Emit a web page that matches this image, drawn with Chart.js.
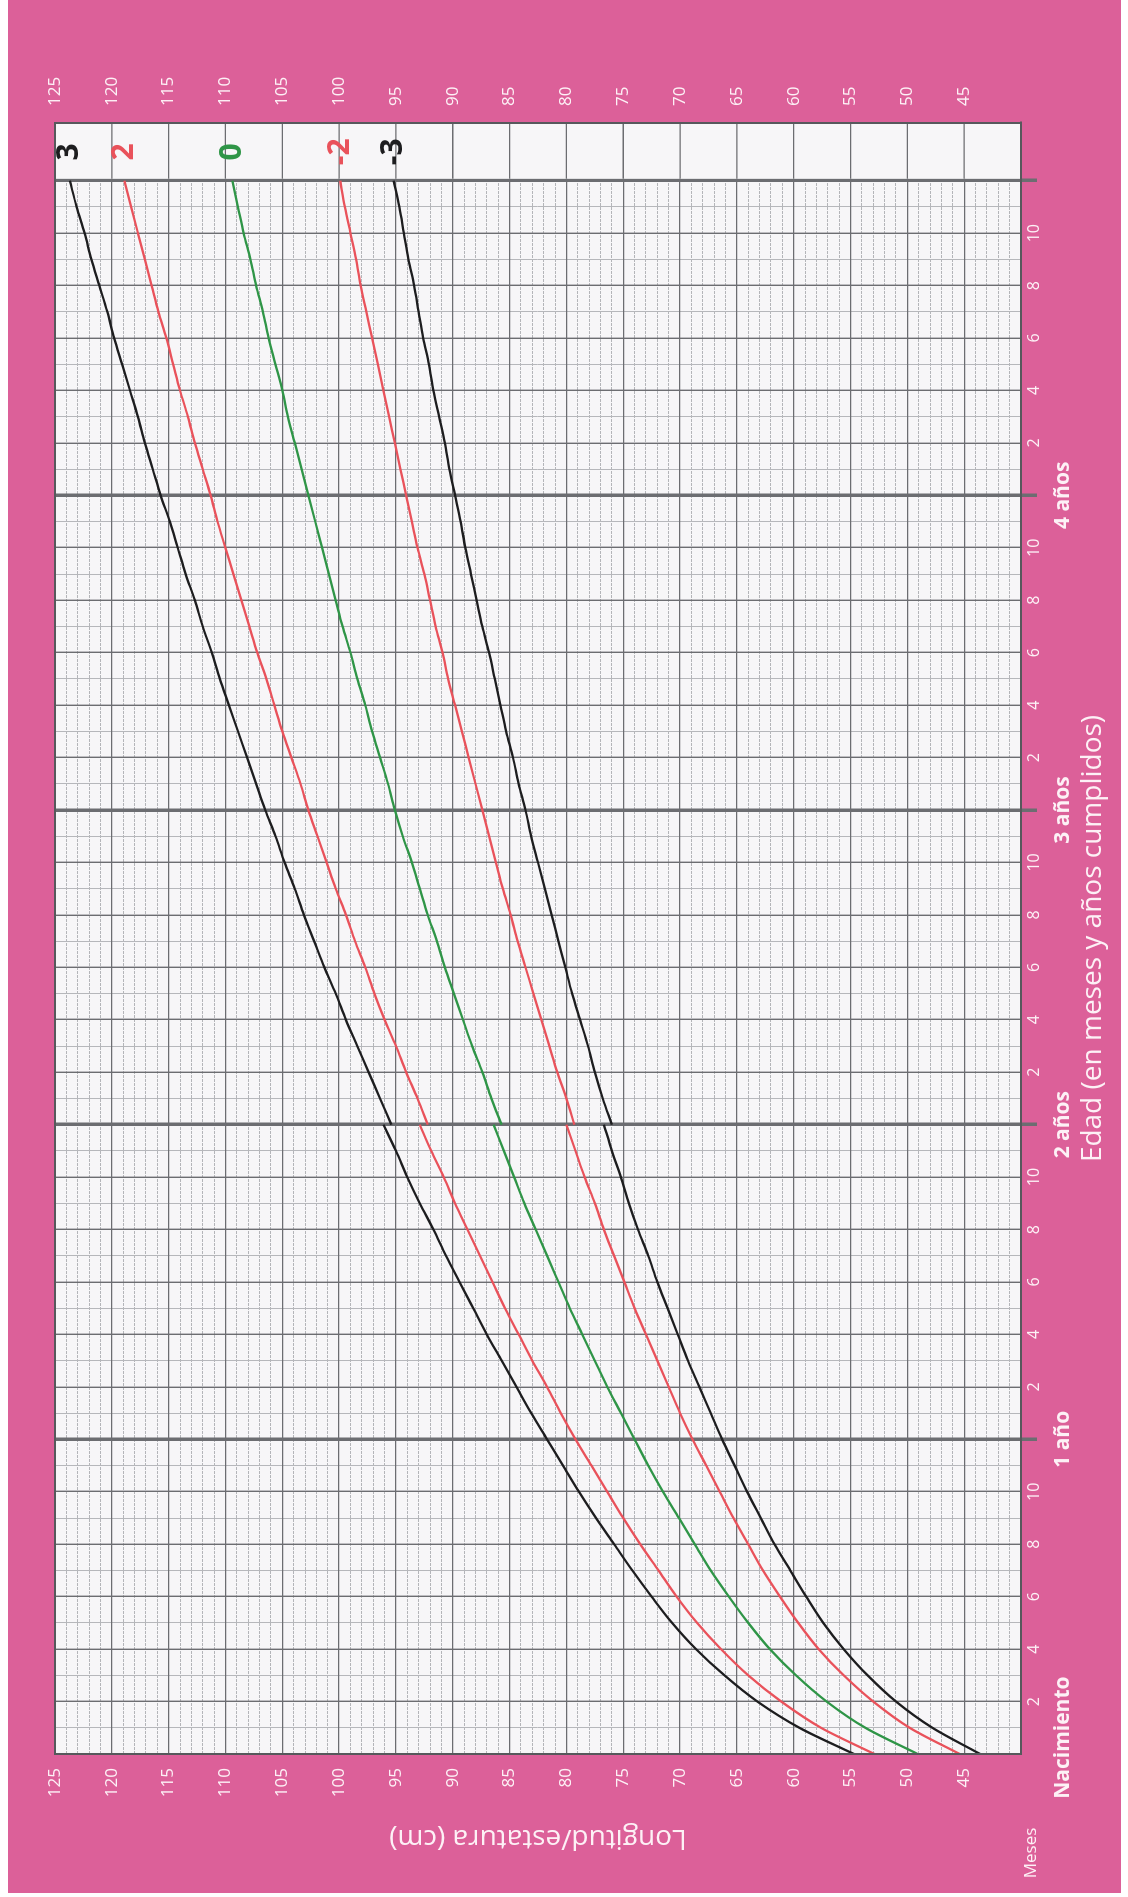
<!DOCTYPE html>
<html lang="es">
<head>
<meta charset="utf-8">
<title>Longitud/estatura para la edad</title>
<script src="https://cdn.jsdelivr.net/npm/chart.js@4.4.1/dist/chart.umd.min.js"></script>
<style>
  html, body { margin: 0; padding: 0; background: #fff; overflow: hidden; }
  /* the chart is drawn lying down and turned a quarter turn, like the printed card */
  #wrap {
    position: absolute; left: 0; top: 0; width: 1897px; height: 1128px;
    transform-origin: 0 0; transform: translate(0, 1897px) rotate(-90deg);
  }
</style>
</head>
<body>
<div id="wrap"><canvas id="growthChart" width="1897" height="1128"></canvas></div>
<script>
// edad en meses
const mesesLongitud = [0,1,2,3,4,5,6,7,8,9,10,11,12,13,14,15,16,17,18,19,20,21,22,23,24]
const mesesEstatura = [24,25,26,27,28,29,30,31,32,33,34,35,36,37,38,39,40,41,42,43,44,45,46,47,48,49,50,51,52,53,54,55,56,57,58,59,60]

// longitud (acostada), 0-24 meses
const longitudMenos3 = [43.6,47.8,51.0,53.5,55.6,57.4,58.9,60.3,61.7,62.9,64.1,65.2,66.3,67.3,68.3,69.3,70.2,71.1,72.0,72.8,73.7,74.5,75.2,76.0,76.7]
const longitudMenos2 = [45.4,49.8,53.0,55.6,57.8,59.6,61.2,62.7,64.0,65.3,66.5,67.7,68.9,70.0,71.0,72.0,73.0,74.0,74.9,75.8,76.7,77.5,78.4,79.2,80.0]
const longitudMediana = [49.1,53.7,57.1,59.8,62.1,64.0,65.7,67.3,68.7,70.1,71.5,72.8,74.0,75.2,76.4,77.5,78.6,79.7,80.7,81.7,82.7,83.7,84.6,85.5,86.4]
const longitudMas2 = [52.9,57.6,61.1,64.0,66.4,68.5,70.3,71.9,73.5,75.0,76.4,77.8,79.2,80.5,81.7,83.0,84.2,85.4,86.5,87.6,88.7,89.8,90.8,91.9,92.9]
const longitudMas3 = [54.7,59.5,63.2,66.1,68.6,70.7,72.5,74.2,75.8,77.4,78.9,80.3,81.7,83.1,84.4,85.7,87.0,88.2,89.4,90.6,91.7,92.9,94.0,95.0,96.1]

// estatura (de pie), 24-60 meses
const estaturaMenos3 = [76.0,76.8,77.5,78.1,78.8,79.5,80.1,80.7,81.3,81.9,82.5,83.1,83.6,84.2,84.7,85.3,85.8,86.3,86.8,87.4,87.9,88.4,88.9,89.3,89.8,90.3,90.7,91.2,91.7,92.1,92.6,93.0,93.4,93.9,94.3,94.7,95.2]
const estaturaMenos2 = [79.3,80.0,80.8,81.5,82.2,82.9,83.6,84.3,84.9,85.6,86.2,86.8,87.4,88.0,88.6,89.2,89.8,90.4,90.9,91.5,92.0,92.5,93.1,93.6,94.1,94.6,95.1,95.6,96.1,96.6,97.1,97.6,98.1,98.5,99.0,99.5,99.9]
const estaturaMediana = [85.7,86.6,87.4,88.3,89.1,89.9,90.7,91.4,92.2,92.9,93.6,94.4,95.1,95.7,96.4,97.1,97.7,98.4,99.0,99.7,100.3,100.9,101.5,102.1,102.7,103.3,103.9,104.5,105.0,105.6,106.2,106.7,107.3,107.8,108.4,108.9,109.4]
const estaturaMas2 = [92.2,93.1,94.1,95.0,96.0,96.9,97.7,98.6,99.4,100.3,101.1,101.9,102.7,103.4,104.2,105.0,105.7,106.4,107.2,107.9,108.6,109.3,110.0,110.7,111.3,112.0,112.7,113.3,114.0,114.6,115.2,115.9,116.5,117.1,117.7,118.3,118.9]
const estaturaMas3 = [95.4,96.4,97.4,98.4,99.4,100.3,101.3,102.2,103.1,103.9,104.8,105.6,106.5,107.3,108.1,108.9,109.7,110.5,111.2,112.0,112.7,113.5,114.2,114.9,115.7,116.4,117.1,117.7,118.4,119.1,119.8,120.4,121.1,121.8,122.4,123.1,123.7]

const etiquetasAnio = ['Nacimiento', '1 año', '2 años', '3 años', '4 años', '5 años']

const ROSA = '#dc6099'
const PAPEL = '#f7f6f8'
const TEXTO = '#fdf1f6'
const LINEA = '#6c6d71'
const FUENTE = '"Open Sans", "Noto Sans", sans-serif'

const curvas = [
  { label: '3', color: '#1d1d1f', longitud: longitudMas3, estatura: estaturaMas3 },
  { label: '-3', color: '#1d1d1f', longitud: longitudMenos3, estatura: estaturaMenos3 },
  { label: '2', color: '#e9525b', longitud: longitudMas2, estatura: estaturaMas2 },
  { label: '-2', color: '#e9525b', longitud: longitudMenos2, estatura: estaturaMenos2 },
  { label: '0', color: '#2f9547', longitud: longitudMediana, estatura: estaturaMediana },
]

const puntos = (lon, est) =>
  mesesLongitud.map((m, i) => ({ x: m, y: lon[i] }))
    .concat([{ x: 24, y: null }])
    .concat(mesesEstatura.map((m, i) => ({ x: m, y: est[i] })))

const datasets = curvas.map(c => ({
  label: c.label,
  data: puntos(c.longitud, c.estatura),
  xAxisID: 'xMes',
  yAxisID: 'yIzq',
  borderColor: c.color,
  borderWidth: 2.3,
  pointRadius: 0,
  cubicInterpolationMode: 'monotone',
  spanGaps: false,
}))

const fondo = {
  id: 'fondo',
  beforeDraw(chart) {
    const { ctx, width, height, chartArea: a } = chart
    ctx.save()
    ctx.fillStyle = '#ffffff'
    ctx.fillRect(0, 0, width, height)
    ctx.fillStyle = ROSA
    ctx.fillRect(4, 8, width - 4, height - 15)
    ctx.fillStyle = PAPEL
    ctx.fillRect(a.left, a.top, a.right - a.left, a.bottom - a.top)
    ctx.restore()
  }
}

// white strip after 5 years, where the curve names go
const franja = {
  id: 'franja',
  beforeDatasetsDraw(chart) {
    const { ctx, chartArea: a } = chart
    const x = chart.scales.xMes, y = chart.scales.yIzq
    const x0 = x.getPixelForValue(60) + 2
    ctx.save()
    ctx.fillStyle = PAPEL
    ctx.fillRect(x0, a.top, a.right - x0, a.bottom - a.top)
    ctx.strokeStyle = LINEA
    ctx.lineWidth = 1.3
    y.ticks.forEach(t => {
      const py = y.getPixelForValue(t.value)
      ctx.beginPath()
      ctx.moveTo(x0, py)
      ctx.lineTo(a.right, py)
      ctx.stroke()
    })
    ctx.restore()
  },
  afterDatasetsDraw(chart) {
    const { ctx } = chart
    const x = chart.scales.xMes, y = chart.scales.yIzq
    ctx.save()
    ctx.font = 'bold 30px ' + FUENTE
    ctx.textAlign = 'center'
    ctx.textBaseline = 'middle'
    chart.data.datasets.forEach(ds => {
      const ultimo = ds.data[ds.data.length - 1]
      ctx.fillStyle = ds.borderColor
      ctx.fillText(ds.label, x.getPixelForValue(61.1), y.getPixelForValue(ultimo.y))
    })
    ctx.restore()
  },
  afterDraw(chart) {
    const { ctx, chartArea: a } = chart
    ctx.save()
    ctx.strokeStyle = '#57585c'
    ctx.lineWidth = 2
    ctx.strokeRect(a.left, a.top, a.right - a.left, a.bottom - a.top)
    ctx.fillStyle = TEXTO
    ctx.font = '17px ' + FUENTE
    ctx.textAlign = 'center'
    ctx.textBaseline = 'middle'
    ctx.fillText('Meses', a.left - 99, a.bottom + 10)
    ctx.restore()
  }
}

const esAnio = v => v > 0 && v <= 60 && v % 12 === 0

new Chart(document.getElementById('growthChart'), {
  type: 'line',
  data: { datasets },
  plugins: [fondo, franja],
  options: {
    responsive: false,
    devicePixelRatio: 1,
    animation: false,
    layout: { padding: { top: 55, left: 0, right: 0, bottom: 0 } },
    plugins: { legend: { display: false }, tooltip: { enabled: false } },
    scales: {
      yMenor: {
        type: 'linear', position: 'left', min: 40, max: 125, weight: -1,
        ticks: { display: false, stepSize: 1 },
        grid: {
          color: c => c.tick.value % 5 === 0 ? 'transparent' : '#b4b5b9',
          lineWidth: 1, drawTicks: false, z: -3
        },
        border: { display: false, dash: [3, 1] },
        afterFit: s => { s.width = 0 }
      },
      xMes: {
        type: 'linear', position: 'bottom', min: 0, max: 62.2, weight: 0,
        ticks: {
          stepSize: 1, autoSkip: false, maxRotation: 0, minRotation: 0, padding: -12,
          color: TEXTO, font: { family: FUENTE, size: 16 },
          callback: v => (Number.isInteger(v) && v > 0 && v < 60 && v % 2 === 0 && v % 12 !== 0) ? String(v % 12) : ''
        },
        grid: {
          color: c => {
            const v = c.tick.value
            if (v > 60 || v === 0) return 'transparent'
            if (v % 12 === 0) return LINEA
            return v % 2 === 0 ? LINEA : '#b6b7bb'
          },
          lineWidth: c => {
            const v = c.tick.value
            if (v % 12 === 0) return 3.5
            return v % 2 === 0 ? 1.4 : 1
          },
          drawTicks: true, tickLength: 16,
          tickColor: c => esAnio(c.tick.value) ? LINEA : 'transparent',
          tickWidth: 3.5,
          z: -2
        },
        border: { display: true, color: '#57585c', width: 2 },
        afterFit: s => { s.height = 27 }
      },
      xAnio: {
        type: 'linear', position: 'bottom', min: 0, max: 62.2, weight: 1,
        ticks: {
          stepSize: 12, autoSkip: false, maxRotation: 0, minRotation: 0, padding: 2,
          color: TEXTO, font: { family: FUENTE, size: 21, weight: 'bold' },
          callback: v => {
            if (!Number.isInteger(v) || v % 12 !== 0 || v > 60) return ''
            const t = etiquetasAnio[v / 12]
            return v === 0 ? '      ' + t : t
          }
        },
        grid: { display: false, drawTicks: false },
        border: { display: false },
        title: {
          display: true, text: 'Edad (en meses y años cumplidos)', color: TEXTO,
          font: { family: FUENTE, size: 28 }, padding: { top: 0, bottom: 18 }
        },
        afterFit: s => { s.height = 80 }
      },
      yIzq: {
        type: 'linear', position: 'left', min: 40, max: 125, weight: 0,
        ticks: {
          stepSize: 5, padding: 14, color: TEXTO, font: { family: FUENTE, size: 17 },
          callback: v => v >= 45 ? String(v) : ''
        },
        grid: { color: LINEA, lineWidth: 1.3, drawTicks: false, z: -1 },
        border: { display: true, color: '#57585c', width: 2 },
        title: {
          display: true, text: 'Longitud/estatura (cm)', color: TEXTO,
          font: { family: FUENTE, size: 28 }, padding: { top: 42, bottom: 0 }
        },
        afterFit: s => { s.width = 143 }
      },
      yDer: {
        type: 'linear', position: 'right', min: 40, max: 125,
        ticks: {
          stepSize: 5, padding: 17, color: TEXTO, font: { family: FUENTE, size: 17 },
          callback: v => v >= 45 ? String(v) : ''
        },
        grid: { display: false, drawTicks: false },
        border: { display: true, color: '#57585c', width: 2 },
        afterFit: s => { s.width = 123 }
      }
    }
  }
})
</script>
</body>
</html>
